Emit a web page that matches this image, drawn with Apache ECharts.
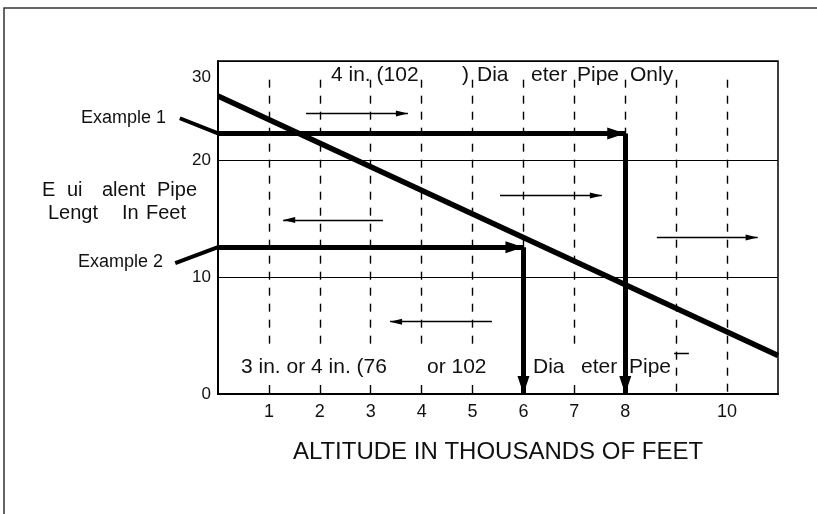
<!DOCTYPE html>
<html>
<head>
<meta charset="utf-8">
<script src="https://cdn.jsdelivr.net/npm/echarts@6/dist/echarts.min.js"></script>
<style>
  html, body { margin: 0; padding: 0; background: #fff; }
  #chart { width: 817px; height: 514px; }
</style>
</head>
<body>
<div id="chart"></div>
<script>
// ---- data ----
const xTickLabels = [1, 2, 3, 4, 5, 6, 7, 8, 10];
const yTickLabels = [0, 10, 20, 30];
const xMax = 11;
const yMax = 28.5;

const pipeLine = [[0, 25.5], [11, 3.3]];

const ex1Leader = [[-0.75, 23.6], [0, 22.3]];
const ex1Across = [[0, 22.3], [8, 22.3]];
const ex1Down = [[8, 22.3], [8, 0]];

const ex2Leader = [[-0.84, 11.2], [0, 12.56]];
const ex2Across = [[0, 12.56], [6, 12.56]];
const ex2Down = [[6, 12.56], [6, 0]];

const thinArrows = [
  [[1.73, 24.0], [3.73, 24.0]],
  [[3.24, 14.9], [1.28, 14.9]],
  [[5.54, 16.98], [7.54, 16.98]],
  [[8.62, 13.4], [10.6, 13.4]],
  [[5.38, 6.19], [3.38, 6.19]]
];
const smallMark = [[8.96, 3.5], [9.25, 3.5]];

const dashX = [1, 2, 3, 4, 5, 6, 7, 8, 9, 10];
const dashTop = 26.9;
const brokenDashX = [1, 2, 3, 4, 5, 6, 7, 8];
const noteBreak = [3.94, 0.77];

const topNote = ['4 in. (102', ')', 'Dia', 'eter', 'Pipe', 'Only'];
const bottomNote = ['3 in. or 4 in. (76', 'or 102', 'Dia', 'eter', 'Pipe'];
const yTitle1 = ['E', 'ui', 'alent', 'Pipe'];
const yTitle2 = ['Lengt', 'In', 'Feet'];
const exampleLabels = ['Example 1', 'Example 2'];
const xTitle = 'ALTITUDE IN THOUSANDS OF FEET';

// ---- layout (pixels) ----
const topNoteLeft = [331, 462, 477, 531, 577, 630];
const bottomNoteLeft = [241, 427, 533, 581, 629];
const yTitle1Left = [42, 67, 102, 157];
const yTitle2Left = [48, 122, 146];
const exampleLeft = [[81, 118], [78, 262]];

const FONT = '"Liberation Sans", Arial, sans-serif';
const INK = '#111';

function chunks(parts, lefts, y, size) {
  return parts.map((t, i) => ({
    type: 'text', x: lefts[i], y: y, z: 10,
    style: { text: t, fill: INK, font: size + 'px ' + FONT, verticalAlign: 'middle', align: 'left' }
  }));
}

const dashData = [];
dashX.forEach(x => {
  if (brokenDashX.includes(x)) {
    dashData.push({ coords: [[x, dashTop], [x, noteBreak[0]]] });
    dashData.push({ coords: [[x, noteBreak[1]], [x, 0]] });
  } else {
    dashData.push({ coords: [[x, dashTop], [x, 0]] });
  }
});

const headThick = 'path://M6,0 M6,18 L12,36 L0,36 Z';
const headThin = 'path://M3,0 M3,12 L6,24 L0,24 Z';

const chart = echarts.init(document.getElementById('chart'), null, { renderer: 'canvas' });
chart.setOption({
  animation: false,
  backgroundColor: '#fff',
  grid: { left: 218, right: 39, top: 61, bottom: 120, show: true, borderColor: '#000', borderWidth: 1.5, backgroundColor: 'transparent' },
  xAxis: {
    type: 'value', min: 0, max: xMax, interval: 1,
    axisLine: { show: true, onZero: false, lineStyle: { color: '#000', width: 2 } },
    axisTick: { show: false },
    splitLine: { show: false },
    axisLabel: {
      color: INK, fontSize: 18, fontFamily: FONT, margin: 9,
      formatter: v => xTickLabels.includes(v) ? String(v) : ''
    },
    name: xTitle, nameLocation: 'middle', nameGap: 46,
    nameTextStyle: { color: INK, fontSize: 24, fontFamily: FONT }
  },
  yAxis: {
    type: 'value', min: 0, max: yMax, interval: 10,
    axisLine: { show: true, lineStyle: { color: '#000', width: 2 } },
    axisTick: { show: false },
    splitLine: { show: true, lineStyle: { color: '#000', width: 1 } },
    axisLabel: {
      color: INK, fontSize: 17, fontFamily: FONT, margin: 7, lineHeight: 16,
      formatter: v => {
        if (yTickLabels.includes(v)) return String(v);
        if (v === yMax) return '\n\n' + yTickLabels[yTickLabels.length - 1];
        return '';
      }
    }
  },
  graphic: [
    { type: 'rect', shape: { x: 4, y: 8, width: 900, height: 700 }, style: { fill: 'none', stroke: '#333', lineWidth: 1.5 }, z: -1 },
    ...chunks(topNote, topNoteLeft, 75, 21),
    ...chunks(bottomNote, bottomNoteLeft, 367, 21),
    ...chunks(yTitle1, yTitle1Left, 190, 20),
    ...chunks(yTitle2, yTitle2Left, 213, 20),
    ...exampleLabels.map((t, i) => ({
      type: 'text', x: exampleLeft[i][0], y: exampleLeft[i][1], z: 10,
      style: { text: t, fill: INK, font: '18px ' + FONT, verticalAlign: 'middle', align: 'left' }
    }))
  ],
  series: [
    {
      type: 'lines', coordinateSystem: 'cartesian2d', silent: true, z: 2,
      lineStyle: { color: '#000', width: 1.4, type: [8, 8], opacity: 1 },
      data: dashData
    },
    {
      type: 'line', data: pipeLine, symbol: 'none', silent: true, z: 4,
      lineStyle: { color: '#000', width: 5.5, cap: 'butt' }
    },
    {
      type: 'lines', coordinateSystem: 'cartesian2d', silent: true, z: 5,
      symbol: ['none', headThin], symbolSize: [1, [6, 24]],
      lineStyle: { color: '#000', width: 1.3, opacity: 1 },
      data: thinArrows.map(c => ({ coords: c }))
    },
    {
      type: 'lines', coordinateSystem: 'cartesian2d', silent: true, z: 5,
      lineStyle: { color: '#000', width: 1.3, opacity: 1 },
      data: [{ coords: smallMark }]
    },
    {
      type: 'lines', coordinateSystem: 'cartesian2d', silent: true, z: 6, clip: false,
      lineStyle: { color: '#000', width: 4, opacity: 1 },
      data: [{ coords: ex1Leader }, { coords: ex2Leader }]
    },
    {
      type: 'lines', coordinateSystem: 'cartesian2d', silent: true, z: 6,
      symbol: ['none', headThick], symbolSize: [1, [12, 36]],
      lineStyle: { color: '#000', width: 5, opacity: 1 },
      data: [ex1Across, ex1Down, ex2Across, ex2Down].map(c => ({ coords: c }))
    }
  ]
});
</script>
</body>
</html>
